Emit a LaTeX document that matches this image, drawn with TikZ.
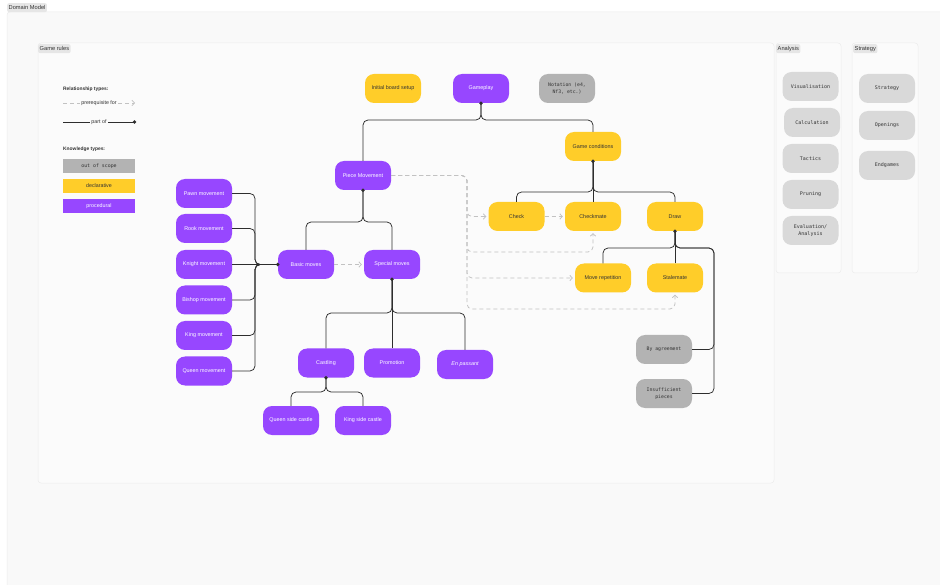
\documentclass[tikz,border=0pt]{standalone}
\usepackage{fontspec}
\setmainfont{Liberation Sans}
\setmonofont{DejaVu Sans Mono}
\usepackage{xcolor}
\definecolor{ProcPurple}{HTML}{9747FF}
\definecolor{DeclYellow}{HTML}{FFCD29}
\definecolor{ScopeGray}{HTML}{B3B3B3}
\definecolor{SkillGray}{HTML}{D9D9D9}
\definecolor{TagGray}{HTML}{E6E6E6}
\definecolor{InkDark}{HTML}{333333}
\definecolor{LinkDark}{HTML}{2E2E2E}
\definecolor{DashGray}{HTML}{C2C2C2}
\definecolor{CanvasGray}{HTML}{F9F9F9}
\definecolor{FrameLine}{HTML}{ECECEC}
\usepackage{tikz}
\usetikzlibrary{positioning,calc,arrows.meta}

\tikzset{
  concept/.style={rounded corners=9pt, minimum width=56pt, minimum height=29pt,
    align=center, inner sep=1pt, font=\fontsize{5.4}{6.6}\selectfont},
  proc/.style={concept, fill=ProcPurple, text=white},
  decl/.style={concept, fill=DeclYellow, text=InkDark},
  outscope/.style={concept, fill=ScopeGray, text=InkDark, font=\ttfamily\fontsize{4.8}{6.8}\selectfont},
  skill/.style={concept, fill=SkillGray, text=InkDark, font=\ttfamily\fontsize{5}{6.8}\selectfont},
  legbox/.style={minimum width=72pt, minimum height=14pt, inner sep=0pt, font=\fontsize{5.3}{6}\selectfont},
  legtext/.style={font=\fontsize{5.3}{6}\selectfont, text=InkDark, inner sep=1.5pt},
  leghead/.style={font=\bfseries\fontsize{4.9}{6}\selectfont, text=InkDark, anchor=west, inner sep=0pt},
  tag/.style={fill=TagGray, rounded corners=2pt, anchor=north west, inner sep=1.5pt,
    minimum height=9pt, text=InkDark, font=\fontsize{5.7}{6.5}\selectfont},
  panel/.style={fill=#1, draw=FrameLine, line width=0.5pt, rounded corners=3pt},
  partof/.style={draw=LinkDark, line width=0.75pt, rounded corners=5pt},
  prereq/.style={draw=DashGray, line width=0.75pt, dash pattern=on 4pt off 3pt, rounded corners=5pt},
  prereqarrow/.style={prereq, -{Straight Barb[length=2.5pt,width=5.5pt]}, shorten >=2pt},
}

\begin{document}
\begin{tikzpicture}[x=1pt, y=-1pt]
  \useasboundingbox (0,0) rectangle (940,585);
  \fill[white] (0,0) rectangle (940,585);

  % frames
  \draw[panel=CanvasGray] (7,12) rectangle (948,592);
  \draw[panel=CanvasGray!60!white] (38,43) rectangle (774,483);
  \draw[panel=CanvasGray!60!white] (776,43) rectangle (841,273);
  \draw[panel=CanvasGray!60!white] (852,43) rectangle (918,273);
  \node[tag] (tagdomain) at (7,3) {Domain Model};
  \node[tag] (tagrules) at (38,44) {Game rules};
  \node[tag] (taganalysis) at (776,44) {Analysis};
  \node[tag] (tagstrategy) at (853,44) {Strategy};

  % legend
  \node[leghead] (legrel) at (63,89) {Relationship types:};
  \node[legtext] (legpre) at (99,103) {prerequisite for};
  \coordinate (legpreA) at (63,103);
  \coordinate (legpreB) at (135,103);
  \draw[prereq] (legpreA) -- (legpre.west);
  \draw[prereqarrow, shorten >=0pt] (legpre.east) -- (legpreB);
  \node[legtext] (legpart) at (99,122) {part of};
  \coordinate (legpartA) at (63,122);
  \coordinate (legpartB) at (134.5,122);
  \draw[partof] (legpartA) -- (legpart.west);
  \draw[partof] (legpart.east) -- (legpartB);
  \fill[LinkDark] (legpartB) circle (1.9pt);
  \node[leghead] (legknow) at (63,149) {Knowledge types:};
  \node[legbox, fill=ScopeGray, text=InkDark, font=\ttfamily\fontsize{4.9}{6}\selectfont] (legscope) at (99,166) {out of scope};
  \node[legbox, fill=DeclYellow, text=InkDark] (legdecl) at (99,186) {declarative};
  \node[legbox, fill=ProcPurple, text=white] (legproc) at (99,206.5) {procedural};

  % game rules
  \node[decl] (setup) at (393,88.5) {Initial board setup};
  \node[proc] (gameplay) at (481,88.5) {Gameplay};
  \node[outscope] (notation) at (567,88.5) {Notation (e4,\\Nf3, etc.)};
  \node[decl] (conditions) at (593,146.5) {Game conditions};
  \node[proc] (piecemove) at (363,175.5) {Piece Movement};
  \node[decl] (check) at (516.5,216.5) {Check};
  \node[decl] (checkmate) at (593,216.5) {Checkmate};
  \node[decl] (draw) at (675,216.5) {Draw};
  \node[decl] (repetition) at (603,278) {Move repetition};
  \node[decl] (stalemate) at (675,278) {Stalemate};
  \node[outscope] (agreement) at (664,349.5) {By agreement};
  \node[outscope] (insufficient) at (664,393.5) {Insufficient\\pieces};
  \node[proc] (basic) at (306,264.5) {Basic moves};
  \node[proc] (special) at (392,264.5) {Special moves};
  \node[proc] (pawn) at (204,193.5) {Pawn movement};
  \node[proc] (rook) at (204,228.5) {Rook movement};
  \node[proc] (knight) at (204,264.5) {Knight movement};
  \node[proc] (bishop) at (204,300) {Bishop movement};
  \node[proc] (king) at (204,335.5) {King movement};
  \node[proc] (queen) at (204,371) {Queen movement};
  \node[proc] (castling) at (326,363) {Castling};
  \node[proc] (promotion) at (392,363) {Promotion};
  \node[proc] (enpassant) at (465,364.5) {\itshape En passant};
  \node[proc] (queenside) at (291,420.5) {Queen side castle};
  \node[proc] (kingside) at (363,420.5) {King side castle};

  % analysis and strategy
  \node[skill] (visual) at (810.5,86.5) {Visualisation};
  \node[skill] (calc) at (812,122.5) {Calculation};
  \node[skill] (tactics) at (810.5,158.5) {Tactics};
  \node[skill] (pruning) at (810.5,194.5) {Pruning};
  \node[skill] (evaluation) at (810.5,230.5) {Evaluation/\\Analysis};
  \node[skill] (strategy) at (887,88.5) {Strategy};
  \node[skill] (openings) at (887,125.5) {Openings};
  \node[skill] (endgames) at (887,165.5) {Endgames};

  % part of
  \coordinate (gpbus) at (481,120);
  \draw[partof] (piecemove.north) |- (gpbus) -- (gameplay.south);
  \draw[partof] (conditions.north) |- (gpbus) -- (gameplay.south);
  \coordinate (gcbus) at (593,192);
  \draw[partof] (check.north) |- (gcbus) -- (conditions.south);
  \draw[partof] (draw.north) |- (gcbus) -- (conditions.south);
  \draw[partof] (checkmate.north) -- (conditions.south);
  \coordinate (drbus) at (675,248);
  \coordinate (drside) at (714,248);
  \draw[partof] (repetition.north) |- (drbus) -- (draw.south);
  \draw[partof] (stalemate.north) -- (draw.south);
  \draw[partof] (agreement.east) -| (drside) -- (drbus) -- (draw.south);
  \draw[partof] (insufficient.east) -| (drside) -- (drbus) -- (draw.south);
  \coordinate (pmbus) at (363,222);
  \draw[partof] (basic.north) |- (pmbus) -- (piecemove.south);
  \draw[partof] (special.north) |- (pmbus) -- (piecemove.south);
  \coordinate (bmjoin) at (255,264.5);
  \foreach \piece in {pawn,rook,bishop,king,queen}
    \draw[partof] (\piece.east) -| (bmjoin) -- (basic.west);
  \draw[partof] (knight.east) -- (basic.west);
  \coordinate (smbus) at (392,313);
  \draw[partof] (castling.north) |- (smbus) -- (special.south);
  \draw[partof] (enpassant.north) |- (smbus) -- (special.south);
  \draw[partof] (promotion.north) -- (special.south);
  \coordinate (csbus) at (326,392);
  \draw[partof] (queenside.north) |- (csbus) -- (castling.south);
  \draw[partof] (kingside.north) |- (csbus) -- (castling.south);
  \foreach \parent/\side in {gameplay/south,conditions/south,draw/south,piecemove/south,basic/west,special/south,castling/south}
    \fill[LinkDark] (\parent.\side) circle (1.9pt);

  % prerequisite for
  \coordinate (pmturn) at (467,175.5);
  \coordinate (cmloop) at (593,252);
  \coordinate (stloop) at (675,309);
  \draw[prereqarrow] (basic.east) -- (special.west);
  \draw[prereqarrow] (check.east) -- (checkmate.west);
  \draw[prereqarrow] (piecemove.east) -- (pmturn) |- (check.west);
  \draw[prereqarrow] (piecemove.east) -- (pmturn) |- (cmloop) -- (checkmate.south);
  \draw[prereqarrow] (piecemove.east) -- (pmturn) |- (repetition.west);
  \draw[prereqarrow] (piecemove.east) -- (pmturn) |- (stloop) -- (stalemate.south);
\end{tikzpicture}
\end{document}
